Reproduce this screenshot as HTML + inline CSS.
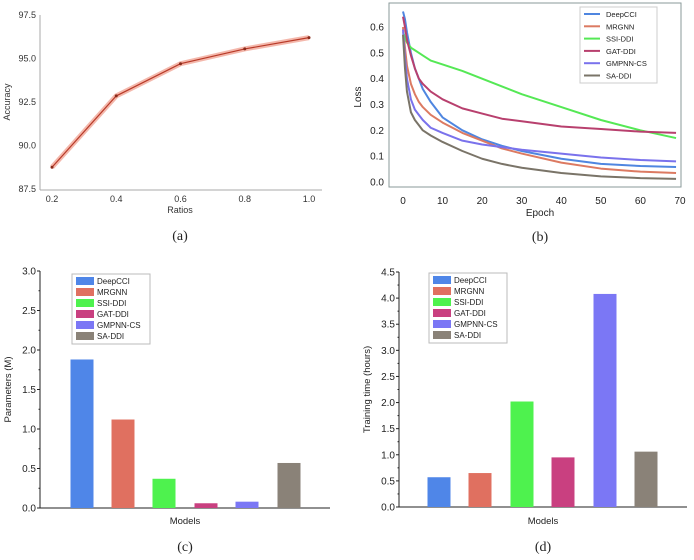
<!DOCTYPE html>
<html><head><meta charset="utf-8"><style>
body{margin:0;background:#fff;}
svg{display:block;font-family:"Liberation Sans",sans-serif;}
</style></head><body>
<svg id="s" width="694" height="560"></svg>
<script>
const ratios=[0.2,0.4,0.6,0.8,1.0];
const accuracy=[88.75,92.85,94.7,95.55,96.2];
const accTicks=[87.5,90.0,92.5,95.0,97.5];
const epochs=[0,0.5,1,2,3,4,5,7,10,15,20,25,30,40,50,60,69];
const models=["DeepCCI","MRGNN","SSI-DDI","GAT-DDI","GMPNN-CS","SA-DDI"];
const lossDeepCCI=[0.66,0.63,0.58,0.50,0.44,0.40,0.36,0.31,0.25,0.20,0.165,0.14,0.12,0.09,0.07,0.062,0.058];
const lossMRGNN=[0.60,0.52,0.45,0.38,0.34,0.31,0.29,0.26,0.23,0.19,0.16,0.13,0.11,0.075,0.052,0.04,0.035];
const lossSSI=[0.58,0.56,0.54,0.52,0.51,0.50,0.49,0.47,0.455,0.43,0.40,0.37,0.34,0.29,0.24,0.20,0.17];
const lossGAT=[0.64,0.60,0.55,0.49,0.44,0.40,0.38,0.35,0.32,0.285,0.265,0.245,0.235,0.215,0.205,0.195,0.19];
const lossGMPNN=[0.59,0.48,0.40,0.32,0.28,0.26,0.24,0.21,0.19,0.16,0.145,0.135,0.125,0.11,0.095,0.085,0.08];
const lossSA=[0.57,0.44,0.35,0.27,0.24,0.22,0.20,0.18,0.155,0.12,0.09,0.07,0.055,0.035,0.022,0.015,0.012];
const params=[1.88,1.12,0.37,0.06,0.08,0.57];
const trainTime=[0.57,0.65,2.02,0.95,4.08,1.06];
const lineColors=["#4f86e0","#dc7a62","#55e855","#b8406e","#7a72ec","#7a7468"];
const barColors=["#4f86e8","#e07060","#4ef24e","#c94080","#7b77f5","#8a8278"];

const S=document.getElementById('s');const NS="http://www.w3.org/2000/svg";
function el(t,a,txt,p){const e=document.createElementNS(NS,t);for(const k in a)e.setAttribute(k,a[k]);if(txt!==undefined)e.textContent=txt;(p||S).appendChild(e);return e;}
function lin(d0,d1,r0,r1){return v=>r0+(v-d0)*(r1-r0)/(d1-d0);}

// Panel a
{const g=el('g',{});
const x=lin(0.2,1.0,52,309),y=lin(87.5,97.5,189,15);
let e=el('line',{x1:40,y1:15,x2:40,y2:190,stroke:'#aaa'},undefined,g);
e=el('line',{x1:40,y1:190,x2:322,y2:190,stroke:'#aaa'},undefined,g);
accTicks.forEach(t=>{const l=el('text',{x:36,y:y(t)+3,'text-anchor':'end','font-size':9,fill:'#333'},t.toFixed(1),g);});
ratios.forEach(t=>{const l=el('text',{x:x(t),y:202,'text-anchor':'middle','font-size':9,fill:'#333'},t.toFixed(1),g);});
let t=el('text',{x:180,y:213,'text-anchor':'middle','font-size':9,fill:'#333'},'Ratios',g);
t=el('text',{x:10,y:102,'text-anchor':'middle','font-size':9,fill:'#333',transform:'rotate(-90 10 102)'},'Accuracy',g);
const pts=ratios.map((r,i)=>x(r)+','+y(accuracy[i])).join(' ');
e=el('polyline',{points:pts,fill:'none',stroke:'#f0a090','stroke-width':5,'stroke-opacity':0.75},undefined,g);
e=el('polyline',{points:pts,fill:'none',stroke:'#b83a28','stroke-width':1.2},undefined,g);
ratios.forEach((r,i)=>{const c=el('circle',{cx:x(r),cy:y(accuracy[i]),r:1.5,fill:'#8a2a1a'},undefined,g);});
t=el('text',{x:180,y:240,'text-anchor':'middle','font-size':14,'font-family':'Liberation Serif',fill:'#222'},'(a)',g);}

// Panel b
{const g=el('g',{});
const x=lin(0,70,403,680),y=lin(0,0.6,182,27);
let e=el('rect',{x:389,y:3,width:292,height:184,fill:'none',stroke:'#8a9a9a'},undefined,g);
[0,0.1,0.2,0.3,0.4,0.5,0.6].forEach(t=>{const l=el('text',{x:384,y:y(t)+3.5,'text-anchor':'end','font-size':10,fill:'#222'},t.toFixed(1),g);});
[0,10,20,30,40,50,60,70].forEach(t=>{const l=el('text',{x:x(t),y:204,'text-anchor':'middle','font-size':10,fill:'#222'},t,g);});
let t=el('text',{x:540,y:216,'text-anchor':'middle','font-size':10,fill:'#222'},'Epoch',g);
t=el('text',{x:361,y:97,'text-anchor':'middle','font-size':10,fill:'#222',transform:'rotate(-90 361 97)'},'Loss',g);
const series=[lossDeepCCI,lossMRGNN,lossSSI,lossGAT,lossGMPNN,lossSA];
series.forEach((s,k)=>{const p=el('polyline',{points:epochs.map((ep,i)=>x(ep)+','+y(s[i])).join(' '),fill:'none',stroke:lineColors[k],'stroke-width':2,'stroke-linejoin':'round'},undefined,g);});
const lg=el('g',{},undefined,g);
el('rect',{x:580,y:7,width:77,height:76,fill:'#fff',stroke:'#ccc'},undefined,lg);
models.forEach((m,k)=>{const yy=14+k*12.3;el('line',{x1:584,y1:yy,x2:600,y2:yy,stroke:lineColors[k],'stroke-width':2},undefined,lg);const l=el('text',{x:606,y:yy+3,'font-size':7.5,fill:'#222'},m,lg);});
t=el('text',{x:540,y:241,'text-anchor':'middle','font-size':14,'font-family':'Liberation Serif',fill:'#222'},'(b)',g);}

// Bar panels
function bars(name,vals,ticks,max,x0,x1,y0,y1,centers,title,lgx,lgy,lab,labY){
const g=el('g',{});
const y=lin(0,max,y0,y1);
let e=el('line',{x1:x0,y1:y1,x2:x0,y2:y0,stroke:'#222'},undefined,g);
e=el('line',{x1:x0,y1:y0,x2:x1,y2:y0,stroke:'#222'},undefined,g);
ticks.forEach(t=>{el('line',{x1:x0-3,y1:y(t),x2:x0,y2:y(t),stroke:'#222'},undefined,g);if(t<max)el('line',{x1:x0-1.5,y1:y(t+ticks[1]/2),x2:x0,y2:y(t+ticks[1]/2),stroke:'#222'},undefined,g);const l=el('text',{x:x0-4,y:y(t)+3.5,'text-anchor':'end','font-size':10,fill:'#222'},t.toFixed(1),g);});
vals.forEach((v,i)=>{const r=el('rect',{x:centers[i]-11.5,y:y(v),width:23,height:y0-y(v),fill:barColors[i]},undefined,g);});
let t=el('text',{x:(x0+x1)/2,y:524,'text-anchor':'middle','font-size':9.5,fill:'#222'},'Models',g);
const ty=(y0+y1)/2,tx=x0-29;
t=el('text',{x:tx,y:ty,'text-anchor':'middle','font-size':9.5,fill:'#222',transform:`rotate(-90 ${tx} ${ty})`},title,g);
const lg=el('g',{},undefined,g);
el('rect',{x:lgx,y:lgy,width:78,height:70,fill:'#fff',stroke:'#bbb'},undefined,lg);
models.forEach((m,k)=>{const yy=lgy+3+k*11;el('rect',{x:lgx+4,y:yy,width:18,height:8,fill:barColors[k]},undefined,lg);const l=el('text',{x:lgx+25,y:yy+7,'font-size':8,fill:'#222'},m,lg);});
t=el('text',{x:(x0+x1)/2,y:labY,'text-anchor':'middle','font-size':14,'font-family':'Liberation Serif',fill:'#222'},lab,g);}
bars('parameters-chart',params,[0,0.5,1.0,1.5,2.0,2.5,3.0],3.0,40,330,508,271,[82,123,164,206,247,289],'Parameters (M)',72,274,'(c)',551);
bars('training-time-chart',trainTime,[0,0.5,1.0,1.5,2.0,2.5,3.0,3.5,4.0,4.5],4.5,399,687,507,272,[439,480,522,563,605,646],'Training time (hours)',429,273,'(d)',551);
</script>
</body></html>
